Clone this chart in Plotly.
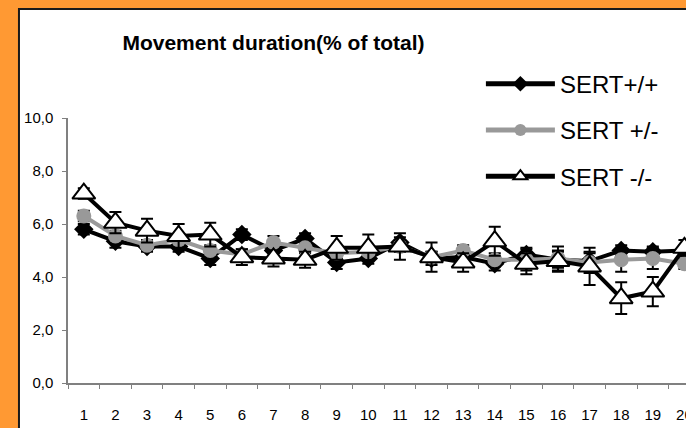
import plotly.graph_objects as go

sessions = [str(i) for i in range(1, 21)]
y_ticks = [0, 2, 4, 6, 8, 10]
y_tick_labels = ["0,0", "2,0", "4,0", "6,0", "8,0", "10,0"]

sert_pp = [5.8, 5.35, 5.15, 5.15, 4.7, 5.6, 5.0, 5.45, 4.55, 4.7, 5.3, 4.7, 4.75, 4.5, 4.85, 4.65, 4.6, 5.0, 4.95, 5.0]
sert_pm = [6.3, 5.55, 5.2, 5.4, 5.0, 4.85, 5.3, 5.1, 4.9, 4.95, 5.15, 4.75, 5.0, 4.65, 4.65, 4.7, 4.55, 4.65, 4.7, 4.5]
sert_mm = [7.15, 6.05, 5.75, 5.55, 5.6, 4.75, 4.7, 4.65, 5.1, 5.1, 5.15, 4.75, 4.55, 5.35, 4.5, 4.6, 4.4, 3.2, 3.45, 5.1]

err_pp = [0.2, 0.25, 0.2, 0.2, 0.25, 0.2, 0.2, 0.2, 0.25, 0.2, 0.2, 0.25, 0.2, 0.25, 0.25, 0.3, 0.3, 0.2, 0.2, 0.2]
err_pm = [0.2, 0.2, 0.2, 0.2, 0.2, 0.2, 0.25, 0.2, 0.2, 0.2, 0.2, 0.2, 0.2, 0.25, 0.4, 0.45, 0.4, 0.45, 0.4, 0.2]
err_mm = [0.2, 0.4, 0.45, 0.45, 0.45, 0.3, 0.3, 0.3, 0.45, 0.5, 0.5, 0.55, 0.35, 0.55, 0.4, 0.4, 0.7, 0.6, 0.55, 0.3]

FONT = "Liberation Sans, Arial, sans-serif"
W, H = 686, 428
ML, MR, MT, MB = 68.3, 0, 118.3, 44.7

fig = go.Figure()

series = [
    ("SERT+/+", sert_pp, err_pp, "black", dict(symbol="diamond", size=15, color="black")),
    ("SERT +/-", sert_pm, err_pm, "#999999", dict(symbol="circle", size=15, color="#999999")),
    ("SERT -/-", sert_mm, err_mm, "black", dict(symbol="triangle-up", size=20, color="white",
                                             line=dict(color="black", width=2))),
]
for i, (name, vals, errs, col, mk) in enumerate(series):
    fig.add_trace(go.Scatter(
        x=sessions, y=vals, name=name, mode="lines+markers",
        line=dict(color=col, width=4),
        marker=mk,
        error_y=dict(type="data", array=errs, visible=True, color="black",
                     thickness=2, width=6),
        cliponaxis=False,
        legendgroup=f"g{i}",
    ))

px_to_x = lambda p: (p - ML) / (W - ML - MR)
px_to_y = lambda p: (H - MB - p) / (H - MT - MB)

fig.add_shape(type="rect", xref="paper", yref="paper", layer="below",
              x0=px_to_x(19.3), x1=px_to_x(720), y0=px_to_y(460), y1=px_to_y(9.3),
              fillcolor="white", line=dict(color="#1a1a1a", width=2))

fig.update_layout(
    width=W, height=H,
    margin=dict(l=ML, r=MR, t=MT, b=MB, pad=0, autoexpand=False),
    paper_bgcolor="#FF9933",
    plot_bgcolor="rgba(0,0,0,0)",
    font=dict(family=FONT, color="black"),
    title=dict(text="<b>Movement duration(% of total)</b>", x=273.5 / W, xref="container",
               y=1 - 43 / H, yref="container", xanchor="center", yanchor="middle",
               font=dict(size=21, family=FONT)),
    showlegend=True,
    legend=dict(xref="paper", yref="paper", x=px_to_x(481), y=px_to_y(62),
                xanchor="left", yanchor="top", font=dict(size=24, family=FONT),
                bgcolor="rgba(0,0,0,0)", tracegroupgap=12, itemwidth=69,
                itemsizing="constant", traceorder="grouped"),
    xaxis=dict(type="category", range=[-0.5, 19.05], showgrid=False, zeroline=False,
               showline=True, linecolor="#808080", linewidth=1.5, tickangle=0,
               ticks="outside", ticklen=4, tickcolor="#808080", tickson="boundaries",
               tickfont=dict(size=15, family=FONT), ticklabelstandoff=17),
    yaxis=dict(range=[0, 10], tickvals=y_ticks, ticktext=y_tick_labels, showgrid=False,
               zeroline=False, showline=True, linecolor="#808080", linewidth=1.5,
               ticks="outside", ticklen=4, tickcolor="#808080",
               tickfont=dict(size=15, family=FONT), ticklabelstandoff=6),
)

fig.write_html("out.html")
